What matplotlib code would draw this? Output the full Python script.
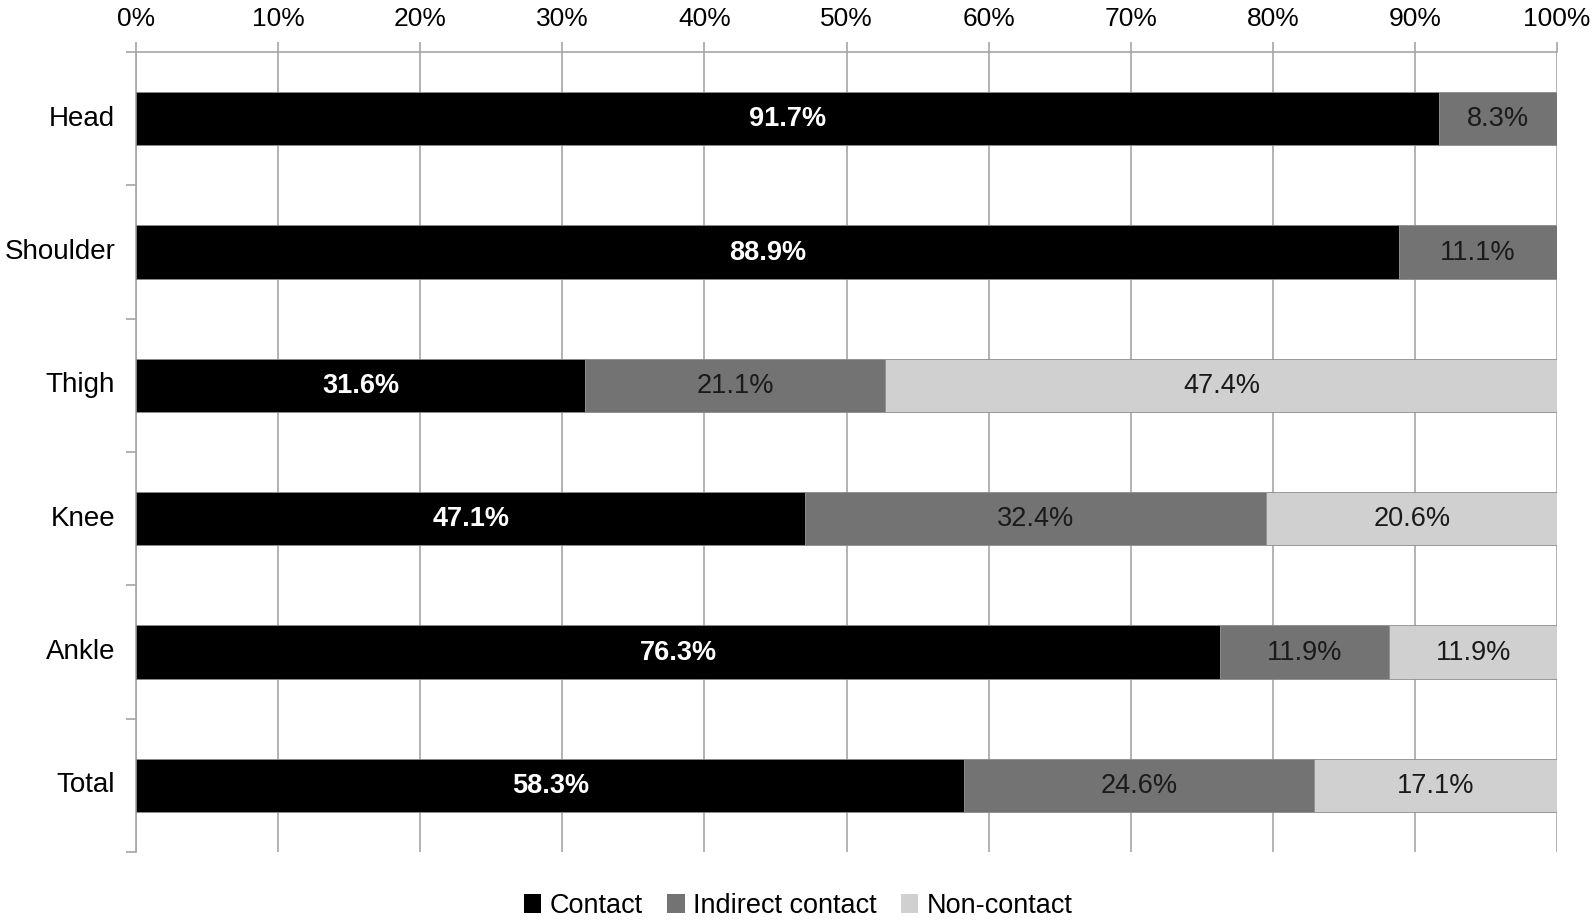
import numpy as np
from matplotlib import pyplot as plt
from matplotlib.patches import Patch

plt.rcParams['font.family'] = ['Liberation Sans', 'DejaVu Sans']

categories = ['Head', 'Shoulder', 'Thigh', 'Knee', 'Ankle', 'Total']
contact = [91.7, 88.9, 31.6, 47.1, 76.3, 58.3]
indirect = [8.3, 11.1, 21.1, 32.4, 11.9, 24.6]
non_contact = [0.0, 0.0, 47.4, 20.6, 11.9, 17.1]
series_names = ['Contact', 'Indirect contact', 'Non-contact']
xtick_labels = ['%d%%' % v for v in range(0, 101, 10)]

colors = ['#000000', '#737373', '#d0d0d0']
text_colors = ['white', '#1a1a1a', '#1a1a1a']
grid_col = '#a6a6a6'

fig = plt.figure(figsize=(15.94, 9.22), dpi=100)
ax = fig.add_axes([136 / 1594, 1 - 852 / 922, (1557 - 136) / 1594, 800 / 922])

y = np.arange(len(categories))
left = np.zeros(len(categories))
for vals, col, tcol, name in zip([contact, indirect, non_contact], colors, text_colors, series_names):
    vals = np.array(vals)
    ax.barh(y, vals, left=left, height=0.4, color=col, edgecolor='#8c8c8c',
            linewidth=0.6, label=name, zorder=3)
    for yi, l, v in zip(y, left, vals):
        if v > 0:
            ax.text(l + v / 2, yi + 0.005, '%.1f%%' % v, ha='center', va='center',
                    fontsize=19.5, color=tcol,
                    fontweight='bold' if tcol == 'white' else 'normal', zorder=4)
    left = left + vals

ax.set_xlim(0, 100)
ax.set_ylim(len(categories) - 0.5, -0.5)

ax.xaxis.tick_top()
ax.set_xticks(range(0, 101, 10))
ax.set_xticklabels(xtick_labels, fontsize=19)
ax.tick_params(axis='x', direction='out', length=7, width=1.2, color=grid_col, pad=8)
ax.grid(axis='x', color=grid_col, linewidth=1.2, zorder=0)

ax.set_yticks(np.arange(-0.5, len(categories), 1.0))
ax.set_yticklabels([])
ax.set_yticks(y, minor=True)
ax.set_yticklabels(categories, minor=True, fontsize=20)
ax.tick_params(axis='y', which='major', direction='out', length=7, width=1.2, color=grid_col)
ax.tick_params(axis='y', which='minor', length=0, pad=15)
for lbl in ax.get_yticklabels(minor=True):
    lbl.set_va('center')

for s in ['right', 'bottom']:
    ax.spines[s].set_visible(False)
for s in ['top', 'left']:
    ax.spines[s].set_color(grid_col)
    ax.spines[s].set_linewidth(1.2)

handles = [Patch(facecolor=c, edgecolor='none') for c in colors]
fig.legend(handles, series_names, loc='center', bbox_to_anchor=(798 / 1594, 1 - 906 / 922),
           ncol=3, frameon=False, fontsize=19.5, handlelength=0.65, handleheight=0.65,
           handletextpad=0.3, columnspacing=0.9)

fig.savefig('out.png', dpi=100)
